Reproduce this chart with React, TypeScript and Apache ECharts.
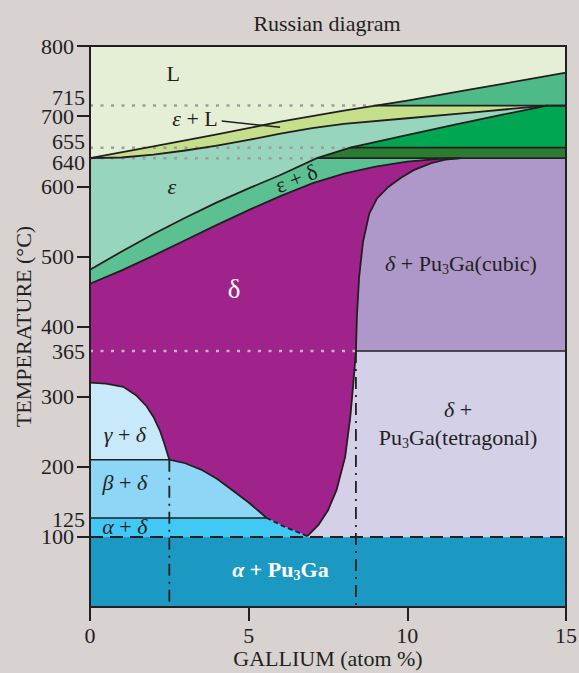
import React, { useEffect, useRef } from 'react';
import * as echarts from 'echarts';

// ---------- data (x: gallium atom %, y: temperature °C) ----------
const X_TICKS = [0, 5, 10, 15];
const Y_TICKS = [100, 200, 300, 400, 500, 600, 700, 800];
const Y_MARKS = [715, 655, 640, 365, 125];

// liquidus (L / two-phase), split where it meets the 715 °C line
const LIQ_A = [[0, 640], [2, 657], [4, 674], [6, 692], [8, 708], [9, 715]];
const LIQ_B = [[9, 715], [10, 722], [12, 738], [15, 762]];
// lower edge of epsilon + L
const EPS_L_LOWER = [[0, 640], [1, 641], [2, 645], [3, 651], [4, 658], [5, 666], [6, 675], [7, 683], [8, 689], [10, 697], [12, 705], [14.4, 715]];
// epsilon / epsilon+delta boundary (three pieces)
const EPS_A = [[0, 481], [1, 507], [2, 532], [3, 555], [4, 577], [5, 597], [6, 616], [7.15, 640]];
const EPS_B = [[7.15, 640], [8.2, 655]];
const EPS_C = [[8.2, 655], [9.8, 671], [11.5, 688], [13, 702], [14.4, 715]];
// top of delta field
const DELTA_TOP = [[0, 461], [1, 480], [2, 501], [3, 523], [4, 545], [5, 566], [6, 586], [7, 604], [8, 618], [9, 628], [10, 635], [11, 639], [11.7, 640]];
// delta / delta + Pu3Ga solvus
const SOLVUS_A = [[11.7, 640], [11.2, 638], [10.75, 633], [10.2, 623], [9.8, 612], [9.4, 599], [9.05, 583], [8.8, 561], [8.6, 520], [8.48, 470], [8.41, 414], [8.38, 365]];
const SOLVUS_B = [[8.38, 365], [8.3, 320], [8.2, 270], [8.04, 214], [7.77, 167], [7.5, 138], [7.2, 117], [6.85, 101]];
// lower-left edge of delta
const TAIL = [[6.85, 101], [6.1, 115], [5.57, 127]];
const BETA_B = [[5.57, 127], [5.0, 149], [4.5, 166], [4.0, 183], [3.5, 196], [3.0, 205], [2.5, 210]];
const GAMMA_B = [[2.5, 210], [2.35, 232], [2.2, 252], [2.0, 271], [1.79, 286], [1.45, 302], [1.05, 314], [0.5, 318.5], [0, 320]];

const X_MIN = 0, X_MAX = 15, Y_MIN = 0, Y_MAX = 800;
const T715 = 715, T655 = 655, T640 = 640, T365 = 365, T210 = 210, T127 = 127, T100 = 100;
const X_GAMMA = 2.5, X_SOLV = 8.38, X_TIP = 6.85, X_BETA = 5.57, X_EPS640 = 7.15, X_EPS655 = 8.2, X_LIQ715 = 9, X_CONV = 14.4;

// ---------- styles ----------
const FONT = 'Liberation Serif';
const INK = '#231f20';
const BG = '#d8d2d1';
const COLORS: Record<string, string> = {
  L: '#e5efd6', epsL: '#c5df8a', topGreen: '#4dba88', eps: '#97d5bc', epsDelta: '#5cc192',
  brightGreen: '#00a651', olive: '#2b7b31', delta: '#a0228b', cubic: '#ae98c9', tetra: '#d3d0e8',
  gammaDelta: '#c8e9f9', betaDelta: '#8dd6f6', alphaDelta: '#42c8f4', alphaPu: '#1b99c2',
};

const rev = (a: number[][]) => a.slice().reverse();

const REGIONS: { key: string; pts: number[][] }[] = [
  { key: 'alphaPu', pts: [[X_MIN, Y_MIN], [X_MAX, Y_MIN], [X_MAX, T100], [X_MIN, T100]] },
  { key: 'L', pts: [[X_MIN, Y_MAX], [X_MAX, Y_MAX], ...rev(LIQ_B), ...rev(LIQ_A)] },
  { key: 'topGreen', pts: [...LIQ_B, [X_MAX, T715]] },
  { key: 'epsL', pts: [...LIQ_A, [X_CONV, T715], ...rev(EPS_L_LOWER)] },
  { key: 'eps', pts: [...EPS_L_LOWER, ...rev(EPS_C), ...rev(EPS_B), ...rev(EPS_A)] },
  { key: 'brightGreen', pts: [...EPS_C, [X_MAX, T715], [X_MAX, T655]] },
  { key: 'olive', pts: [...EPS_B, [X_MAX, T655], [X_MAX, T640]] },
  { key: 'epsDelta', pts: [...EPS_A, ...rev(DELTA_TOP)] },
  { key: 'cubic', pts: [...SOLVUS_A, [X_MAX, T365], [X_MAX, T640]] },
  { key: 'tetra', pts: [...SOLVUS_B, [X_TIP, T100], [X_MAX, T100], [X_MAX, T365]] },
  { key: 'delta', pts: [...DELTA_TOP, ...SOLVUS_A, ...SOLVUS_B, ...TAIL, ...BETA_B, ...GAMMA_B] },
  { key: 'gammaDelta', pts: [[X_MIN, T210], ...GAMMA_B] },
  { key: 'betaDelta', pts: [[X_MIN, T127], ...BETA_B, [X_MIN, T210]] },
  { key: 'alphaDelta', pts: [[X_MIN, T100], [X_TIP, T100], ...TAIL, [X_MIN, T127]] },
];

const LINE_STYLES: Record<string, any> = {
  solid: { stroke: INK, lineWidth: 1.8 },
  thin: { stroke: INK, lineWidth: 1.5 },
  tail: { stroke: INK, lineWidth: 1.8, lineDash: [5, 3] },
  dashed: { stroke: INK, lineWidth: 2, lineDash: [13, 7] },
  dashdot: { stroke: INK, lineWidth: 1.8, lineDash: [12, 6, 2, 6] },
  dotted: { stroke: '#9d9d9d', lineWidth: 2.5, lineDash: [3, 7.5] },
  dottedLight: { stroke: '#c4b4c3', lineWidth: 2.5, lineDash: [3, 7.5] },
  leader: { stroke: INK, lineWidth: 1.5 },
};

const LINES: { kind: string; pts: number[][] }[] = [
  { kind: 'dotted', pts: [[X_MIN, T715], [X_LIQ715, T715]] },
  { kind: 'dotted', pts: [[X_MIN, T655], [X_EPS655, T655]] },
  { kind: 'dotted', pts: [[X_MIN, T640], [X_EPS640, T640]] },
  { kind: 'dottedLight', pts: [[X_MIN, T365], [X_SOLV, T365]] },
  { kind: 'solid', pts: [...LIQ_A, ...LIQ_B] },
  { kind: 'solid', pts: EPS_L_LOWER },
  { kind: 'solid', pts: [...EPS_A, ...EPS_B, ...EPS_C, [X_MAX, T715]] },
  { kind: 'solid', pts: [[X_LIQ715, T715], [X_MAX, T715]] },
  { kind: 'solid', pts: [[X_EPS655, T655], [X_MAX, T655]] },
  { kind: 'solid', pts: [[X_EPS640, T640], [X_MAX, T640]] },
  { kind: 'solid', pts: DELTA_TOP },
  { kind: 'solid', pts: [...SOLVUS_A, ...SOLVUS_B] },
  { kind: 'thin', pts: [[X_SOLV, T365], [X_MAX, T365]] },
  { kind: 'solid', pts: GAMMA_B },
  { kind: 'solid', pts: BETA_B },
  { kind: 'thin', pts: [[X_MIN, T210], [X_GAMMA, T210]] },
  { kind: 'thin', pts: [[X_MIN, T127], [X_BETA, T127]] },
  { kind: 'tail', pts: TAIL },
  { kind: 'dashed', pts: [[X_MIN, T100], [X_MAX, T100]] },
  { kind: 'dashdot', pts: [[X_GAMMA, T210], [X_GAMMA, Y_MIN]] },
  { kind: 'dashdot', pts: [[X_SOLV, T365], [X_SOLV, Y_MIN]] },
  { kind: 'leader', pts: [[4.15, 693], [5.99, 684]] },
];

// region labels: text (rich), anchor in data units, colour, rotation
const LABELS: { text: string; at: number[]; color: string; rot?: number }[] = [
  { text: '{n|L}', at: [2.62, 761], color: INK },
  { text: '{i|ε}{n| + L}', at: [3.31, 697], color: INK },
  { text: '{i|ε}', at: [2.58, 600], color: INK },
  { text: '{n|ε + δ}', at: [6.5, 611], color: INK, rot: 0.38 },
  { text: '{b|δ}', at: [4.54, 453], color: '#ffffff' },
  { text: '{i|δ}{n| + Pu}{s|3}{n|Ga(cubic)}', at: [11.69, 490], color: INK },
  { text: '{i|δ}{n| +}', at: [11.6, 281], color: INK },
  { text: '{n|Pu}{s|3}{n|Ga(tetragonal)}', at: [11.6, 242], color: INK },
  { text: '{i|γ}{n| + }{i|δ}', at: [1.1, 246], color: INK },
  { text: '{i|β}{n| + }{i|δ}', at: [1.1, 177], color: INK },
  { text: '{i|α}{n| + }{i|δ}', at: [1.1, 115], color: INK },
  { text: '{bi|α}{bn| + Pu}{bs|3}{bn|Ga}', at: [6.0, 53], color: '#ffffff' },
];

function richFor(color: string) {
  const f = (o: any) => ({ fontFamily: FONT, fontSize: 22, fontStyle: 'normal', fontWeight: 'normal', fill: color, lineHeight: 26, ...o });
  return {
    n: f({}),
    i: f({ fontStyle: 'italic' }),
    s: f({ fontSize: 14, lineHeight: 14, verticalAlign: 'bottom' }),
    b: f({ fontSize: 27, lineHeight: 30 }),
    bn: f({ fontWeight: 'bold' }),
    bi: f({ fontWeight: 'bold', fontStyle: 'italic' }),
    bs: f({ fontWeight: 'bold', fontSize: 14, lineHeight: 14, verticalAlign: 'bottom' }),
  };
}

const axisText = { fontFamily: FONT, fontSize: 22, color: INK };
const axisLineStyle = { color: INK, width: 2 };

// marker labels sit a little above (715, 655) or below (640) their level, as in the source
const markFormatter = (v: number) => (v === 715 ? '{up2|' + v + '}' : v === 655 ? '{up|' + v + '}' : v === 640 ? '{down|' + v + '}' : '{m|' + v + '}');
const markRich = {
  m: { ...axisText },
  up: { ...axisText, padding: [0, 0, 12, 0] },
  up2: { ...axisText, padding: [0, 0, 16, 0] },
  down: { ...axisText, padding: [8, 0, 0, 0] },
};

function buildOption(): any {
  return {
    animation: false,
    backgroundColor: BG,
    title: {
      text: 'Russian diagram', left: 327, top: 12, textAlign: 'center', padding: 0,
      textStyle: { fontFamily: FONT, fontSize: 22, fontWeight: 'normal', color: INK },
    },
    grid: { left: 90, right: 13, top: 46, bottom: 66, outerBoundsMode: 'none', containLabel: false },
    xAxis: [
      {
        type: 'value', min: X_MIN, max: X_MAX, interval: 5, position: 'bottom', z: 10,
        axisLine: { onZero: false, lineStyle: axisLineStyle },
        axisTick: { length: 14, lineStyle: axisLineStyle, customValues: X_TICKS },
        axisLabel: { margin: 17, ...axisText, customValues: X_TICKS },
        splitLine: { show: false },
        name: 'GALLIUM (atom %)', nameLocation: 'middle', nameGap: 40, nameMoveOverlap: false, nameTextStyle: axisText,
      },
      {
        type: 'value', min: X_MIN, max: X_MAX, position: 'top', z: 10,
        axisLine: { onZero: false, lineStyle: axisLineStyle },
        axisTick: { show: false }, axisLabel: { show: false }, splitLine: { show: false },
      },
    ],
    yAxis: [
      {
        type: 'value', min: Y_MIN, max: Y_MAX, interval: 100, position: 'left', z: 10,
        axisLine: { onZero: false, lineStyle: axisLineStyle },
        axisTick: { length: 13, lineStyle: axisLineStyle, customValues: Y_TICKS },
        axisLabel: { margin: 16, ...axisText, customValues: Y_TICKS },
        splitLine: { show: false },
        name: 'TEMPERATURE (°C)', nameLocation: 'middle', nameGap: 56, nameMoveOverlap: false, nameTextStyle: axisText,
      },
      {
        type: 'value', min: Y_MIN, max: Y_MAX, position: 'left',
        axisLine: { show: false, onZero: false }, axisTick: { show: false },
        axisLabel: { margin: 5, ...axisText, customValues: Y_MARKS, formatter: markFormatter, rich: markRich },
        splitLine: { show: false },
      },
      {
        type: 'value', min: Y_MIN, max: Y_MAX, position: 'right', z: 10,
        axisLine: { show: true, onZero: false, lineStyle: axisLineStyle },
        axisTick: { show: false }, axisLabel: { show: false }, splitLine: { show: false },
      },
    ],
    series: [
      {
        type: 'custom', name: 'phases', coordinateSystem: 'cartesian2d', silent: true, z: 1,
        data: REGIONS.map((_, i) => [0, 0, i]),
        renderItem: (params: any, api: any) => {
          const r = REGIONS[params.dataIndex];
          return { type: 'polygon', shape: { points: r.pts.map((p) => api.coord(p)) }, style: { fill: COLORS[r.key], stroke: COLORS[r.key], lineWidth: 0.6 } };
        },
      },
      {
        type: 'custom', name: 'boundaries', coordinateSystem: 'cartesian2d', silent: true, z: 3,
        data: LINES.map((_, i) => [0, 0, i]),
        renderItem: (params: any, api: any) => {
          const l = LINES[params.dataIndex];
          return { type: 'polyline', shape: { points: l.pts.map((p) => api.coord(p)) }, style: { fill: null, ...LINE_STYLES[l.kind] } };
        },
      },
      {
        type: 'custom', name: 'labels', coordinateSystem: 'cartesian2d', silent: true, z: 4,
        data: LABELS.map((_, i) => [0, 0, i]),
        renderItem: (params: any, api: any) => {
          const lb = LABELS[params.dataIndex];
          const [px, py] = api.coord(lb.at);
          return {
            type: 'text', x: px, y: py, rotation: lb.rot || 0,
            style: {
              text: lb.text, rich: richFor(lb.color), fill: lb.color,
              fontFamily: FONT, fontSize: 22, align: 'center', verticalAlign: 'middle',
            },
          };
        },
      },
    ],
  };
}

export default function App() {
  const ref = useRef<HTMLDivElement>(null);
  useEffect(() => {
    if (!ref.current) return;
    const chart = echarts.init(ref.current, null, { renderer: 'svg' });
    chart.setOption(buildOption());
    return () => chart.dispose();
  }, []);
  return <div ref={ref} style={{ position: 'fixed', left: 0, top: 0, width: 579, height: 673 }} />;
}
